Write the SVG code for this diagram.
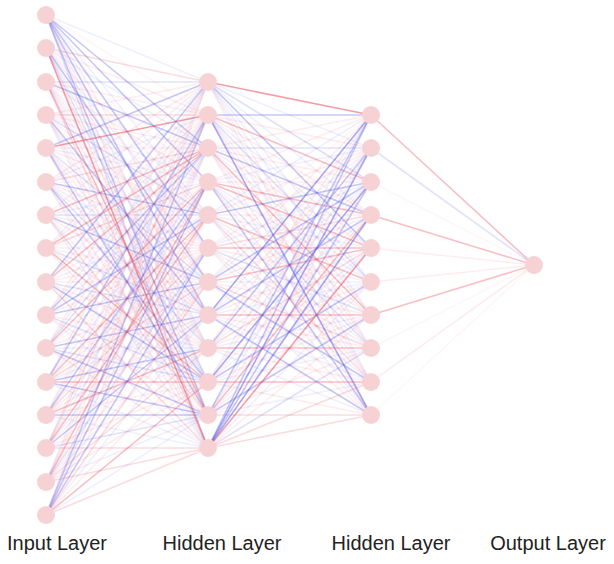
<svg xmlns="http://www.w3.org/2000/svg" width="614" height="564" viewBox="0 0 614 564">
<style>
line{stroke-width:1.6;fill:none}
.r0{stroke:#e8505f;stroke-opacity:.05}
.r1{stroke:#e8505f;stroke-opacity:.1}
.r2{stroke:#e8505f;stroke-opacity:.2}
.r3{stroke:#e8505f;stroke-opacity:.36}
.r4{stroke:#e8505f;stroke-opacity:.55}
.b1{stroke:#5a5ae6;stroke-opacity:.09}
.b2{stroke:#5a5ae6;stroke-opacity:.18}
.b3{stroke:#5a5ae6;stroke-opacity:.34}
.b4{stroke:#5a5ae6;stroke-opacity:.52}
.node{fill:#f7d2d5}
.lbl{font-family:"Liberation Sans",Arial,sans-serif;font-size:20px;fill:#222;text-anchor:middle}
</style>
<rect width="614" height="564" fill="#fff"/>
<g id="connectors">
<line x1="46" y1="15" x2="208" y2="82" class="b1"/><line x1="46" y1="15" x2="208" y2="115" class="r0"/><line x1="46" y1="15" x2="208" y2="148" class="b3"/><line x1="46" y1="15" x2="208" y2="182" class="b3"/><line x1="46" y1="15" x2="208" y2="215" class="b1"/><line x1="46" y1="15" x2="208" y2="248" class="b3"/><line x1="46" y1="15" x2="208" y2="282" class="r1"/><line x1="46" y1="15" x2="208" y2="315" class="b3"/><line x1="46" y1="15" x2="208" y2="348" class="b1"/><line x1="46" y1="15" x2="208" y2="382" class="r1"/><line x1="46" y1="15" x2="208" y2="415" class="b3"/><line x1="46" y1="15" x2="208" y2="448" class="b2"/>
<line x1="46" y1="48" x2="208" y2="82" class="r2"/><line x1="46" y1="48" x2="208" y2="115" class="r1"/><line x1="46" y1="48" x2="208" y2="148" class="b1"/><line x1="46" y1="48" x2="208" y2="182" class="r0"/><line x1="46" y1="48" x2="208" y2="215" class="r1"/><line x1="46" y1="48" x2="208" y2="248" class="b1"/><line x1="46" y1="48" x2="208" y2="282" class="b3"/><line x1="46" y1="48" x2="208" y2="315" class="r1"/><line x1="46" y1="48" x2="208" y2="348" class="b1"/><line x1="46" y1="48" x2="208" y2="382" class="b2"/><line x1="46" y1="48" x2="208" y2="415" class="r1"/><line x1="46" y1="48" x2="208" y2="448" class="r4"/>
<line x1="46" y1="82" x2="208" y2="82" class="b2"/><line x1="46" y1="82" x2="208" y2="115" class="r1"/><line x1="46" y1="82" x2="208" y2="148" class="b3"/><line x1="46" y1="82" x2="208" y2="182" class="r1"/><line x1="46" y1="82" x2="208" y2="215" class="r0"/><line x1="46" y1="82" x2="208" y2="248" class="b1"/><line x1="46" y1="82" x2="208" y2="282" class="r1"/><line x1="46" y1="82" x2="208" y2="315" class="b1"/><line x1="46" y1="82" x2="208" y2="348" class="r1"/><line x1="46" y1="82" x2="208" y2="382" class="b1"/><line x1="46" y1="82" x2="208" y2="415" class="r3"/><line x1="46" y1="82" x2="208" y2="448" class="r2"/>
<line x1="46" y1="115" x2="208" y2="82" class="r1"/><line x1="46" y1="115" x2="208" y2="115" class="r2"/><line x1="46" y1="115" x2="208" y2="148" class="r1"/><line x1="46" y1="115" x2="208" y2="182" class="b1"/><line x1="46" y1="115" x2="208" y2="215" class="b2"/><line x1="46" y1="115" x2="208" y2="248" class="r1"/><line x1="46" y1="115" x2="208" y2="282" class="r0"/><line x1="46" y1="115" x2="208" y2="315" class="b3"/><line x1="46" y1="115" x2="208" y2="348" class="r1"/><line x1="46" y1="115" x2="208" y2="382" class="b1"/><line x1="46" y1="115" x2="208" y2="415" class="r1"/><line x1="46" y1="115" x2="208" y2="448" class="b1"/>
<line x1="46" y1="148" x2="208" y2="82" class="b3"/><line x1="46" y1="148" x2="208" y2="115" class="r4"/><line x1="46" y1="148" x2="208" y2="148" class="r1"/><line x1="46" y1="148" x2="208" y2="182" class="b1"/><line x1="46" y1="148" x2="208" y2="215" class="r1"/><line x1="46" y1="148" x2="208" y2="248" class="r0"/><line x1="46" y1="148" x2="208" y2="282" class="b2"/><line x1="46" y1="148" x2="208" y2="315" class="r1"/><line x1="46" y1="148" x2="208" y2="348" class="r1"/><line x1="46" y1="148" x2="208" y2="382" class="b1"/><line x1="46" y1="148" x2="208" y2="415" class="b3"/><line x1="46" y1="148" x2="208" y2="448" class="r1"/>
<line x1="46" y1="182" x2="208" y2="82" class="r1"/><line x1="46" y1="182" x2="208" y2="115" class="b1"/><line x1="46" y1="182" x2="208" y2="148" class="r2"/><line x1="46" y1="182" x2="208" y2="182" class="r0"/><line x1="46" y1="182" x2="208" y2="215" class="b3"/><line x1="46" y1="182" x2="208" y2="248" class="r1"/><line x1="46" y1="182" x2="208" y2="282" class="b1"/><line x1="46" y1="182" x2="208" y2="315" class="r1"/><line x1="46" y1="182" x2="208" y2="348" class="b2"/><line x1="46" y1="182" x2="208" y2="382" class="b3"/><line x1="46" y1="182" x2="208" y2="415" class="r1"/><line x1="46" y1="182" x2="208" y2="448" class="b1"/>
<line x1="46" y1="215" x2="208" y2="82" class="r1"/><line x1="46" y1="215" x2="208" y2="115" class="r0"/><line x1="46" y1="215" x2="208" y2="148" class="r3"/><line x1="46" y1="215" x2="208" y2="182" class="b1"/><line x1="46" y1="215" x2="208" y2="215" class="b2"/><line x1="46" y1="215" x2="208" y2="248" class="r1"/><line x1="46" y1="215" x2="208" y2="282" class="b3"/><line x1="46" y1="215" x2="208" y2="315" class="r1"/><line x1="46" y1="215" x2="208" y2="348" class="r0"/><line x1="46" y1="215" x2="208" y2="382" class="b1"/><line x1="46" y1="215" x2="208" y2="415" class="r2"/><line x1="46" y1="215" x2="208" y2="448" class="b1"/>
<line x1="46" y1="248" x2="208" y2="82" class="b1"/><line x1="46" y1="248" x2="208" y2="115" class="r1"/><line x1="46" y1="248" x2="208" y2="148" class="r3"/><line x1="46" y1="248" x2="208" y2="182" class="r2"/><line x1="46" y1="248" x2="208" y2="215" class="r0"/><line x1="46" y1="248" x2="208" y2="248" class="b1"/><line x1="46" y1="248" x2="208" y2="282" class="r1"/><line x1="46" y1="248" x2="208" y2="315" class="b2"/><line x1="46" y1="248" x2="208" y2="348" class="r1"/><line x1="46" y1="248" x2="208" y2="382" class="r3"/><line x1="46" y1="248" x2="208" y2="415" class="r1"/><line x1="46" y1="248" x2="208" y2="448" class="r0"/>
<line x1="46" y1="282" x2="208" y2="82" class="b3"/><line x1="46" y1="282" x2="208" y2="115" class="r1"/><line x1="46" y1="282" x2="208" y2="148" class="r3"/><line x1="46" y1="282" x2="208" y2="182" class="r0"/><line x1="46" y1="282" x2="208" y2="215" class="b1"/><line x1="46" y1="282" x2="208" y2="248" class="r1"/><line x1="46" y1="282" x2="208" y2="282" class="r1"/><line x1="46" y1="282" x2="208" y2="315" class="b2"/><line x1="46" y1="282" x2="208" y2="348" class="r1"/><line x1="46" y1="282" x2="208" y2="382" class="b3"/><line x1="46" y1="282" x2="208" y2="415" class="r0"/><line x1="46" y1="282" x2="208" y2="448" class="r2"/>
<line x1="46" y1="315" x2="208" y2="82" class="r1"/><line x1="46" y1="315" x2="208" y2="115" class="b1"/><line x1="46" y1="315" x2="208" y2="148" class="b3"/><line x1="46" y1="315" x2="208" y2="182" class="r1"/><line x1="46" y1="315" x2="208" y2="215" class="b3"/><line x1="46" y1="315" x2="208" y2="248" class="r1"/><line x1="46" y1="315" x2="208" y2="282" class="b3"/><line x1="46" y1="315" x2="208" y2="315" class="r0"/><line x1="46" y1="315" x2="208" y2="348" class="r1"/><line x1="46" y1="315" x2="208" y2="382" class="b2"/><line x1="46" y1="315" x2="208" y2="415" class="r1"/><line x1="46" y1="315" x2="208" y2="448" class="b1"/>
<line x1="46" y1="348" x2="208" y2="82" class="b1"/><line x1="46" y1="348" x2="208" y2="115" class="r1"/><line x1="46" y1="348" x2="208" y2="148" class="b2"/><line x1="46" y1="348" x2="208" y2="182" class="r3"/><line x1="46" y1="348" x2="208" y2="215" class="b1"/><line x1="46" y1="348" x2="208" y2="248" class="r0"/><line x1="46" y1="348" x2="208" y2="282" class="r1"/><line x1="46" y1="348" x2="208" y2="315" class="b3"/><line x1="46" y1="348" x2="208" y2="348" class="b1"/><line x1="46" y1="348" x2="208" y2="382" class="b2"/><line x1="46" y1="348" x2="208" y2="415" class="b3"/><line x1="46" y1="348" x2="208" y2="448" class="r1"/>
<line x1="46" y1="382" x2="208" y2="82" class="r1"/><line x1="46" y1="382" x2="208" y2="115" class="b3"/><line x1="46" y1="382" x2="208" y2="148" class="r0"/><line x1="46" y1="382" x2="208" y2="182" class="b1"/><line x1="46" y1="382" x2="208" y2="215" class="r3"/><line x1="46" y1="382" x2="208" y2="248" class="r1"/><line x1="46" y1="382" x2="208" y2="282" class="r2"/><line x1="46" y1="382" x2="208" y2="315" class="b1"/><line x1="46" y1="382" x2="208" y2="348" class="b3"/><line x1="46" y1="382" x2="208" y2="382" class="r3"/><line x1="46" y1="382" x2="208" y2="415" class="b3"/><line x1="46" y1="382" x2="208" y2="448" class="b1"/>
<line x1="46" y1="415" x2="208" y2="82" class="r0"/><line x1="46" y1="415" x2="208" y2="115" class="b1"/><line x1="46" y1="415" x2="208" y2="148" class="r1"/><line x1="46" y1="415" x2="208" y2="182" class="b3"/><line x1="46" y1="415" x2="208" y2="215" class="r1"/><line x1="46" y1="415" x2="208" y2="248" class="r2"/><line x1="46" y1="415" x2="208" y2="282" class="b1"/><line x1="46" y1="415" x2="208" y2="315" class="r1"/><line x1="46" y1="415" x2="208" y2="348" class="r3"/><line x1="46" y1="415" x2="208" y2="382" class="r1"/><line x1="46" y1="415" x2="208" y2="415" class="b3"/><line x1="46" y1="415" x2="208" y2="448" class="b1"/>
<line x1="46" y1="448" x2="208" y2="82" class="r1"/><line x1="46" y1="448" x2="208" y2="115" class="r2"/><line x1="46" y1="448" x2="208" y2="148" class="b1"/><line x1="46" y1="448" x2="208" y2="182" class="r1"/><line x1="46" y1="448" x2="208" y2="215" class="r3"/><line x1="46" y1="448" x2="208" y2="248" class="b1"/><line x1="46" y1="448" x2="208" y2="282" class="r1"/><line x1="46" y1="448" x2="208" y2="315" class="b3"/><line x1="46" y1="448" x2="208" y2="348" class="r0"/><line x1="46" y1="448" x2="208" y2="382" class="r1"/><line x1="46" y1="448" x2="208" y2="415" class="b2"/><line x1="46" y1="448" x2="208" y2="448" class="r2"/>
<line x1="46" y1="482" x2="208" y2="82" class="b1"/><line x1="46" y1="482" x2="208" y2="115" class="r1"/><line x1="46" y1="482" x2="208" y2="148" class="r1"/><line x1="46" y1="482" x2="208" y2="182" class="r3"/><line x1="46" y1="482" x2="208" y2="215" class="r1"/><line x1="46" y1="482" x2="208" y2="248" class="b2"/><line x1="46" y1="482" x2="208" y2="282" class="r1"/><line x1="46" y1="482" x2="208" y2="315" class="b1"/><line x1="46" y1="482" x2="208" y2="348" class="r2"/><line x1="46" y1="482" x2="208" y2="382" class="r1"/><line x1="46" y1="482" x2="208" y2="415" class="b1"/><line x1="46" y1="482" x2="208" y2="448" class="r2"/>
<line x1="46" y1="515" x2="208" y2="82" class="r1"/><line x1="46" y1="515" x2="208" y2="115" class="b3"/><line x1="46" y1="515" x2="208" y2="148" class="b1"/><line x1="46" y1="515" x2="208" y2="182" class="b3"/><line x1="46" y1="515" x2="208" y2="215" class="r1"/><line x1="46" y1="515" x2="208" y2="248" class="b3"/><line x1="46" y1="515" x2="208" y2="282" class="r2"/><line x1="46" y1="515" x2="208" y2="315" class="b1"/><line x1="46" y1="515" x2="208" y2="348" class="r1"/><line x1="46" y1="515" x2="208" y2="382" class="r3"/><line x1="46" y1="515" x2="208" y2="415" class="b1"/><line x1="46" y1="515" x2="208" y2="448" class="r2"/>
<line x1="208" y1="82" x2="371" y2="115" class="r4"/><line x1="208" y1="82" x2="371" y2="148" class="b1"/><line x1="208" y1="82" x2="371" y2="182" class="b2"/><line x1="208" y1="82" x2="371" y2="215" class="b1"/><line x1="208" y1="82" x2="371" y2="248" class="b3"/><line x1="208" y1="82" x2="371" y2="282" class="b1"/><line x1="208" y1="82" x2="371" y2="315" class="b1"/><line x1="208" y1="82" x2="371" y2="348" class="r1"/><line x1="208" y1="82" x2="371" y2="382" class="b1"/><line x1="208" y1="82" x2="371" y2="415" class="r0"/>
<line x1="208" y1="115" x2="371" y2="115" class="b3"/><line x1="208" y1="115" x2="371" y2="148" class="r1"/><line x1="208" y1="115" x2="371" y2="182" class="r3"/><line x1="208" y1="115" x2="371" y2="215" class="r1"/><line x1="208" y1="115" x2="371" y2="248" class="b1"/><line x1="208" y1="115" x2="371" y2="282" class="b2"/><line x1="208" y1="115" x2="371" y2="315" class="r1"/><line x1="208" y1="115" x2="371" y2="348" class="b1"/><line x1="208" y1="115" x2="371" y2="382" class="r1"/><line x1="208" y1="115" x2="371" y2="415" class="b4"/>
<line x1="208" y1="148" x2="371" y2="115" class="r1"/><line x1="208" y1="148" x2="371" y2="148" class="b2"/><line x1="208" y1="148" x2="371" y2="182" class="r1"/><line x1="208" y1="148" x2="371" y2="215" class="b3"/><line x1="208" y1="148" x2="371" y2="248" class="r1"/><line x1="208" y1="148" x2="371" y2="282" class="b1"/><line x1="208" y1="148" x2="371" y2="315" class="r3"/><line x1="208" y1="148" x2="371" y2="348" class="r1"/><line x1="208" y1="148" x2="371" y2="382" class="b1"/><line x1="208" y1="148" x2="371" y2="415" class="r1"/>
<line x1="208" y1="182" x2="371" y2="115" class="r1"/><line x1="208" y1="182" x2="371" y2="148" class="b1"/><line x1="208" y1="182" x2="371" y2="182" class="r1"/><line x1="208" y1="182" x2="371" y2="215" class="r3"/><line x1="208" y1="182" x2="371" y2="248" class="r3"/><line x1="208" y1="182" x2="371" y2="282" class="b1"/><line x1="208" y1="182" x2="371" y2="315" class="r1"/><line x1="208" y1="182" x2="371" y2="348" class="b2"/><line x1="208" y1="182" x2="371" y2="382" class="r1"/><line x1="208" y1="182" x2="371" y2="415" class="b3"/>
<line x1="208" y1="215" x2="371" y2="115" class="b1"/><line x1="208" y1="215" x2="371" y2="148" class="r1"/><line x1="208" y1="215" x2="371" y2="182" class="b3"/><line x1="208" y1="215" x2="371" y2="215" class="r1"/><line x1="208" y1="215" x2="371" y2="248" class="b1"/><line x1="208" y1="215" x2="371" y2="282" class="r3"/><line x1="208" y1="215" x2="371" y2="315" class="r1"/><line x1="208" y1="215" x2="371" y2="348" class="b1"/><line x1="208" y1="215" x2="371" y2="382" class="r2"/><line x1="208" y1="215" x2="371" y2="415" class="b1"/>
<line x1="208" y1="248" x2="371" y2="115" class="r0"/><line x1="208" y1="248" x2="371" y2="148" class="r1"/><line x1="208" y1="248" x2="371" y2="182" class="b1"/><line x1="208" y1="248" x2="371" y2="215" class="r2"/><line x1="208" y1="248" x2="371" y2="248" class="r3"/><line x1="208" y1="248" x2="371" y2="282" class="r1"/><line x1="208" y1="248" x2="371" y2="315" class="b2"/><line x1="208" y1="248" x2="371" y2="348" class="r1"/><line x1="208" y1="248" x2="371" y2="382" class="b1"/><line x1="208" y1="248" x2="371" y2="415" class="r1"/>
<line x1="208" y1="282" x2="371" y2="115" class="r1"/><line x1="208" y1="282" x2="371" y2="148" class="b1"/><line x1="208" y1="282" x2="371" y2="182" class="b3"/><line x1="208" y1="282" x2="371" y2="215" class="r1"/><line x1="208" y1="282" x2="371" y2="248" class="r3"/><line x1="208" y1="282" x2="371" y2="282" class="b1"/><line x1="208" y1="282" x2="371" y2="315" class="r1"/><line x1="208" y1="282" x2="371" y2="348" class="r2"/><line x1="208" y1="282" x2="371" y2="382" class="b3"/><line x1="208" y1="282" x2="371" y2="415" class="r1"/>
<line x1="208" y1="315" x2="371" y2="115" class="b4"/><line x1="208" y1="315" x2="371" y2="148" class="r1"/><line x1="208" y1="315" x2="371" y2="182" class="b1"/><line x1="208" y1="315" x2="371" y2="215" class="b3"/><line x1="208" y1="315" x2="371" y2="248" class="r1"/><line x1="208" y1="315" x2="371" y2="282" class="b1"/><line x1="208" y1="315" x2="371" y2="315" class="r3"/><line x1="208" y1="315" x2="371" y2="348" class="r1"/><line x1="208" y1="315" x2="371" y2="382" class="b1"/><line x1="208" y1="315" x2="371" y2="415" class="b3"/>
<line x1="208" y1="348" x2="371" y2="115" class="r1"/><line x1="208" y1="348" x2="371" y2="148" class="b3"/><line x1="208" y1="348" x2="371" y2="182" class="r1"/><line x1="208" y1="348" x2="371" y2="215" class="b1"/><line x1="208" y1="348" x2="371" y2="248" class="r2"/><line x1="208" y1="348" x2="371" y2="282" class="r1"/><line x1="208" y1="348" x2="371" y2="315" class="b1"/><line x1="208" y1="348" x2="371" y2="348" class="r3"/><line x1="208" y1="348" x2="371" y2="382" class="r1"/><line x1="208" y1="348" x2="371" y2="415" class="b1"/>
<line x1="208" y1="382" x2="371" y2="115" class="b1"/><line x1="208" y1="382" x2="371" y2="148" class="r1"/><line x1="208" y1="382" x2="371" y2="182" class="b4"/><line x1="208" y1="382" x2="371" y2="215" class="r1"/><line x1="208" y1="382" x2="371" y2="248" class="b1"/><line x1="208" y1="382" x2="371" y2="282" class="b3"/><line x1="208" y1="382" x2="371" y2="315" class="r1"/><line x1="208" y1="382" x2="371" y2="348" class="b1"/><line x1="208" y1="382" x2="371" y2="382" class="r3"/><line x1="208" y1="382" x2="371" y2="415" class="r1"/>
<line x1="208" y1="415" x2="371" y2="115" class="b3"/><line x1="208" y1="415" x2="371" y2="148" class="b1"/><line x1="208" y1="415" x2="371" y2="182" class="r1"/><line x1="208" y1="415" x2="371" y2="215" class="r3"/><line x1="208" y1="415" x2="371" y2="248" class="b1"/><line x1="208" y1="415" x2="371" y2="282" class="r1"/><line x1="208" y1="415" x2="371" y2="315" class="b3"/><line x1="208" y1="415" x2="371" y2="348" class="r1"/><line x1="208" y1="415" x2="371" y2="382" class="b1"/><line x1="208" y1="415" x2="371" y2="415" class="r2"/>
<line x1="208" y1="448" x2="371" y2="115" class="b3"/><line x1="208" y1="448" x2="371" y2="148" class="b4"/><line x1="208" y1="448" x2="371" y2="182" class="b3"/><line x1="208" y1="448" x2="371" y2="215" class="b4"/><line x1="208" y1="448" x2="371" y2="248" class="r4"/><line x1="208" y1="448" x2="371" y2="282" class="b1"/><line x1="208" y1="448" x2="371" y2="315" class="r1"/><line x1="208" y1="448" x2="371" y2="348" class="b2"/><line x1="208" y1="448" x2="371" y2="382" class="r2"/><line x1="208" y1="448" x2="371" y2="415" class="r2"/>
<line x1="371" y1="115" x2="534" y2="265" class="r3"/><line x1="371" y1="148" x2="534" y2="265" class="b2"/><line x1="371" y1="182" x2="534" y2="265" class="r0"/><line x1="371" y1="215" x2="534" y2="265" class="r3"/><line x1="371" y1="248" x2="534" y2="265" class="r1"/><line x1="371" y1="282" x2="534" y2="265" class="r1"/><line x1="371" y1="315" x2="534" y2="265" class="r3"/><line x1="371" y1="348" x2="534" y2="265" class="r0"/><line x1="371" y1="382" x2="534" y2="265" class="r1"/><line x1="371" y1="415" x2="534" y2="265" class="r0"/>
</g>
<g id="input-layer" class="node">
<circle cx="46" cy="15" r="9"/><circle cx="46" cy="48" r="9"/><circle cx="46" cy="82" r="9"/><circle cx="46" cy="115" r="9"/><circle cx="46" cy="148" r="9"/><circle cx="46" cy="182" r="9"/><circle cx="46" cy="215" r="9"/><circle cx="46" cy="248" r="9"/><circle cx="46" cy="282" r="9"/><circle cx="46" cy="315" r="9"/><circle cx="46" cy="348" r="9"/><circle cx="46" cy="382" r="9"/><circle cx="46" cy="415" r="9"/><circle cx="46" cy="448" r="9"/><circle cx="46" cy="482" r="9"/><circle cx="46" cy="515" r="9"/>
</g>
<g id="hidden-layer-1" class="node">
<circle cx="208" cy="82" r="9"/><circle cx="208" cy="115" r="9"/><circle cx="208" cy="148" r="9"/><circle cx="208" cy="182" r="9"/><circle cx="208" cy="215" r="9"/><circle cx="208" cy="248" r="9"/><circle cx="208" cy="282" r="9"/><circle cx="208" cy="315" r="9"/><circle cx="208" cy="348" r="9"/><circle cx="208" cy="382" r="9"/><circle cx="208" cy="415" r="9"/><circle cx="208" cy="448" r="9"/>
</g>
<g id="hidden-layer-2" class="node">
<circle cx="371" cy="115" r="9"/><circle cx="371" cy="148" r="9"/><circle cx="371" cy="182" r="9"/><circle cx="371" cy="215" r="9"/><circle cx="371" cy="248" r="9"/><circle cx="371" cy="282" r="9"/><circle cx="371" cy="315" r="9"/><circle cx="371" cy="348" r="9"/><circle cx="371" cy="382" r="9"/><circle cx="371" cy="415" r="9"/>
</g>
<g id="output-layer" class="node">
<circle cx="534" cy="265" r="9"/>
</g>
<g id="labels">
<text class="lbl" x="57" y="550">Input Layer</text>
<text class="lbl" x="222" y="550">Hidden Layer</text>
<text class="lbl" x="391" y="550">Hidden Layer</text>
<text class="lbl" x="548" y="550">Output Layer</text>
</g>
</svg>
